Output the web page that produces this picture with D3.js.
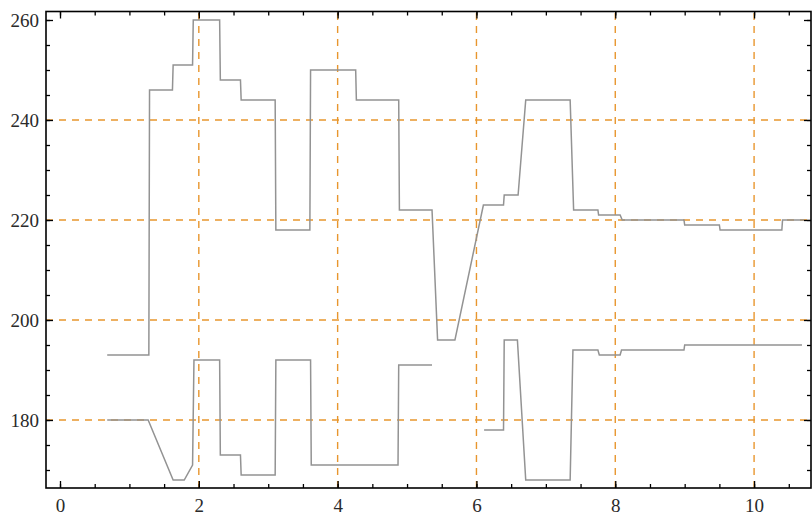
<!DOCTYPE html>
<html>
<head>
<meta charset="utf-8">
<script src="https://cdn.jsdelivr.net/npm/d3@7"></script>
<style>
  body { margin: 0; background: #fff; }
</style>
</head>
<body>
<div id="chart"></div>
<script>
// Two stepped traces

// Upper trace
let upperX = [0.68, 1.28, 1.29, 1.62, 1.63, 1.91, 1.92, 2.30, 2.31, 2.60, 2.61, 3.10, 3.11, 3.60, 3.61,
	4.26, 4.27, 4.88, 4.89, 5.36, 5.44, 5.69, 6.10, 6.39, 6.40, 6.60, 6.71, 7.35, 7.40, 7.75,
	7.76, 8.07, 8.10, 8.99, 9.00, 9.50, 9.51, 10.40, 10.41, 10.72];
let upperY = [193, 193, 246, 246, 251, 251, 260, 260, 248, 248, 244, 244, 218, 218, 250,
	250, 244, 244, 222, 222, 196, 196, 223, 223, 225, 225, 244, 244, 222, 222,
	221, 221, 220, 220, 219, 219, 218, 218, 220, 220];

// Lower trace (null = gap in the data)
let lowerX = [0.68, 1.27, 1.63, 1.79, 1.91, 1.93, 2.30, 2.31, 2.60, 2.61, 3.10, 3.11, 3.61, 3.62,
	4.87, 4.88, 5.36, 5.70, 6.11, 6.39, 6.40, 6.59, 6.71, 7.35, 7.39, 7.75, 7.77, 8.07, 8.09,
	8.99, 9.00, 10.69];
let lowerY = [180, 180, 168, 168, 171, 192, 192, 173, 173, 169, 169, 192, 192, 171,
	171, 191, 191, null, 178, 178, 196, 196, 168, 168, 194, 194, 193, 193, 194,
	194, 195, 195];

// Ticks and grid
let xMajor = [0, 2, 4, 6, 8, 10];
let xMinor = d3.range(0, 11, 0.5);
let yMajor = [180, 200, 220, 240, 260];
let yMinor = d3.range(170, 261, 5);
let xGrid = [2, 4, 6, 8, 10];
let yGrid = [180, 200, 220, 240];

let width = 812, height = 515;
let margin = {top: 11.5, right: 1, bottom: 27, left: 46};

let svg = d3.select("#chart").append("svg")
	.attr("width", width)
	.attr("height", height);

let x = d3.scaleLinear()
	.domain([-0.2017, 10.82])
	.range([margin.left, width - margin.right]);

let y = d3.scaleLinear()
	.domain([166.4, 261.7])
	.range([height - margin.bottom, margin.top]);

// Grid lines
let grid = svg.append("g")
	.attr("stroke", "#e8962e")
	.attr("stroke-width", 1.4)
	.attr("stroke-dasharray", "7,6");

grid.selectAll(".vg")
	.data(xGrid)
	.enter().append("line")
	.attr("x1", d => x(d)).attr("x2", d => x(d))
	.attr("y1", y.range()[0]).attr("y2", y.range()[1]);

grid.selectAll(".hg")
	.data(yGrid)
	.enter().append("line")
	.attr("y1", d => y(d)).attr("y2", d => y(d))
	.attr("x1", x.range()[0]).attr("x2", x.range()[1]);

// Traces
let line = d3.line()
	.defined(d => d[1] !== null)
	.x(d => x(d[0]))
	.y(d => y(d[1]));

let traces = [
	d3.zip(upperX, upperY),
	d3.zip(lowerX, lowerY)
];

svg.selectAll(".trace")
	.data(traces)
	.enter().append("path")
	.attr("class", "trace")
	.attr("d", line)
	.attr("fill", "none")
	.attr("stroke", "#939393")
	.attr("stroke-width", 1.5);

// Frame with inward ticks
let frameB = height - margin.bottom, frameL = margin.left;
let frameT = margin.top, frameR = width - margin.right;

let frameAxis = (axis, ticks, size, tx, ty, fmt) => {
	let g = svg.append("g")
		.attr("transform", "translate(" + tx + "," + ty + ")")
		.call(axis.tickValues(ticks).tickSize(size).tickSizeOuter(0).tickFormat(fmt));
	g.select(".domain").remove();
	g.selectAll("line").attr("stroke", "#000").attr("stroke-width", 1.3);
	g.attr("font-family", "'Liberation Serif', 'Times New Roman', serif")
		.attr("font-size", 19);
	g.selectAll("text").attr("fill", "#2a2a2a");
	return g;
};

let noLabel = () => "";

frameAxis(d3.axisBottom(x), xMinor, -4, 0, frameB, noLabel);
frameAxis(d3.axisBottom(x), xMajor, -7, 0, frameB, d3.format("d"))
	.selectAll("text").attr("dy", "1.25em").attr("y", 0);
frameAxis(d3.axisTop(x), xMinor, -4, 0, frameT, noLabel);
frameAxis(d3.axisTop(x), xMajor, -7, 0, frameT, noLabel);

frameAxis(d3.axisLeft(y), yMinor, -4, frameL, 0, noLabel);
frameAxis(d3.axisLeft(y), yMajor, -7, frameL, 0, d3.format("d"))
	.selectAll("text").attr("x", -7);
frameAxis(d3.axisRight(y), yMinor, -4, frameR, 0, noLabel);
frameAxis(d3.axisRight(y), yMajor, -7, frameR, 0, noLabel);

svg.append("rect")
	.attr("x", frameL).attr("y", frameT)
	.attr("width", frameR - frameL).attr("height", frameB - frameT)
	.attr("fill", "none")
	.attr("stroke", "#000")
	.attr("stroke-width", 1.6);
</script>
</body>
</html>
